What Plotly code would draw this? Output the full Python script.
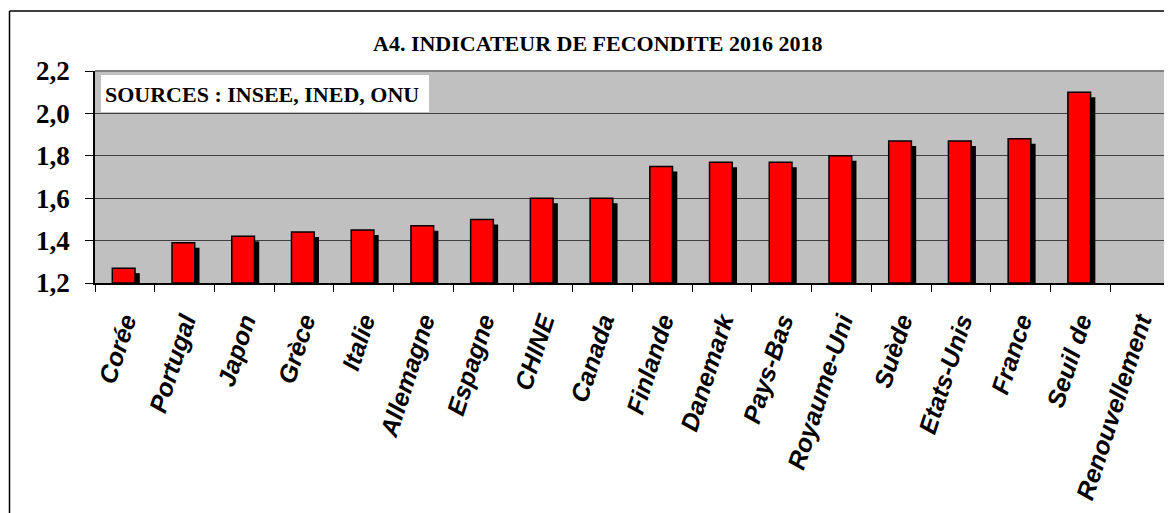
import plotly.graph_objects as go

categories = ["Corée", "Portugal", "Japon", "Grèce", "Italie", "Allemagne", "Espagne",
              "CHINE", "Canada", "Finlande", "Danemark", "Pays-Bas", "Royaume-Uni",
              "Suède", "Etats-Unis", "France", "Seuil de", "Renouvellement"]
values = [1.27, 1.39, 1.42, 1.44, 1.45, 1.47, 1.50, 1.60, 1.60, 1.75, 1.77, 1.77,
          1.80, 1.87, 1.87, 1.88, 2.10, None]
y_ticks = [1.2, 1.4, 1.6, 1.8, 2.0, 2.2]

# page body margin offset of the html output
OFF = 8
# layout geometry in page pixels
PX0, PX1, PY0, PY1 = 95, 1170, 71, 283
W, H = 1164, 505
L, T = PX0 - OFF, PY0 - OFF
pw, ph = PX1 - PX0, PY1 - PY0
R, B = W - L - pw, H - T - ph
y0, y1 = 1.2, 2.2
px_per_val = ph / (y1 - y0)

shadow_drop = 5 / px_per_val
shadow_vals = [None if v is None else v - shadow_drop for v in values]

fig = go.Figure()
fig.add_trace(go.Bar(
    x=categories, y=[None if v is None else v - y0 for v in shadow_vals], base=y0,
    width=0.38, offset=-0.13,
    marker=dict(color="black", line=dict(width=0)),
    hoverinfo="skip", showlegend=False,
))
fig.add_trace(go.Bar(
    x=categories, y=[None if v is None else v - y0 for v in values], base=y0,
    width=0.38, offset=-0.21,
    marker=dict(color="#FF0000", line=dict(color="black", width=1.5)),
    showlegend=False,
))

def px_x(p):
    return (p - PX0) / pw

def px_y(p):
    return (PY1 - p) / ph

shapes = [
    dict(type="rect", xref="paper", yref="paper",
         x0=px_x(101), x1=px_x(429), y0=px_y(112), y1=px_y(75),
         fillcolor="white", line=dict(width=0), layer="above"),
    dict(type="line", xref="paper", yref="paper",
         x0=px_x(9.5), x1=px_x(9.5), y0=px_y(H + 40), y1=px_y(11),
         line=dict(color="black", width=1.5)),
    dict(type="line", xref="paper", yref="paper",
         x0=px_x(9.5), x1=px_x(W + 40), y0=px_y(11), y1=px_y(11),
         line=dict(color="black", width=1.5)),
    dict(type="line", xref="paper", yref="paper",
         x0=0, x1=1, y0=1, y1=1,
         line=dict(color="#808080", width=2), layer="above"),
]

annotations = [
    dict(text="A4. INDICATEUR DE FECONDITE 2016 2018", xref="paper", yref="paper",
         x=px_x(597), y=px_y(43), xanchor="center", yanchor="middle", showarrow=False,
         font=dict(family="Liberation Serif", size=22, color="black", weight="bold")),
    dict(text="SOURCES : INSEE, INED, ONU", xref="paper", yref="paper",
         x=px_x(103), y=px_y(94), xanchor="left", yanchor="middle", showarrow=False,
         font=dict(family="Liberation Serif", size=22, color="black", weight="bold")),
]

fig.update_layout(
    width=W, height=H,
    margin=dict(l=L, r=R, t=T, b=B, pad=0),
    paper_bgcolor="white", plot_bgcolor="#C0C0C0",
    barmode="overlay",
    separators=", ",
    shapes=shapes, annotations=annotations,
    xaxis=dict(
        type="category", categoryorder="array", categoryarray=categories,
        range=[-0.5, len(categories) - 0.5],
        showline=True, linecolor="black", linewidth=1.5,
        ticks="outside", tickson="boundaries", ticklen=7, tickcolor="black", tickwidth=1,
        tickangle=-72, ticklabelstandoff=12,
        tickfont=dict(family="Liberation Sans", size=25, color="black",
                      weight="bold", style="italic"),
        showgrid=False, zeroline=False,
    ),
    yaxis=dict(
        range=[y0, y1], tickvals=y_ticks, tickformat=".1f",
        showline=True, linecolor="black", linewidth=1.5,
        ticks="outside", ticklen=8, tickcolor="black", tickwidth=1,
        ticklabelstandoff=10,
        tickfont=dict(family="Liberation Serif", size=27, color="black", weight="bold"),
        showgrid=True, gridcolor="#404040", gridwidth=1.3, zeroline=False,
    ),
)

fig.write_html("out.html")
